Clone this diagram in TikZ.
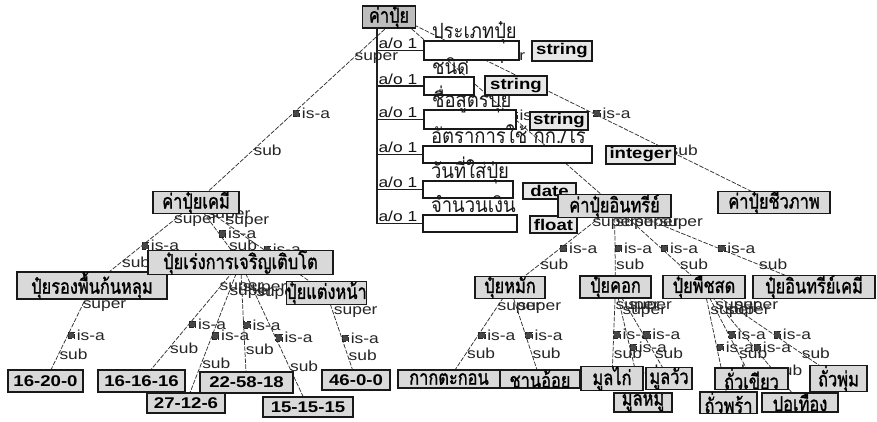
\documentclass[tikz,border=0pt]{standalone}
\usepackage{fontspec}
\setmainfont{Liberation Sans}[FakeStretch=1.2]
\newfontfamily\thaifont[Script=Thai,FakeStretch=0.88]{Loma}
\newfontfamily\thaiboxfont[Script=Thai,FakeStretch=0.8,FakeBold=1.2]{Loma}
\usetikzlibrary{calc}
\pgfdeclarelayer{bg}
\pgfdeclarelayer{back}
\pgfsetlayers{bg,back,main}

% box: style, name, centre x, centre y, width, height, text
\newcommand\bx[7]{\node[#1,minimum width=#5pt,minimum height=#6pt] (#2) at (#3,#4) {#7};}
% is-a link from a super class to a sub class
\newcommand\isalink[2]{\draw[edge] (#1) -- node[superlbl]{super} node[isamark]{} node[sublbl]{sub} (#2);}

\begin{document}
\begin{tikzpicture}[x=1pt,y=-1pt,
  every node/.style={inner sep=0pt, outer sep=0pt},
  box/.style={draw=black!90, line width=1.2pt, fill=black!15, text=black},
  topbox/.style={box, fill=black!26},
  slotbox/.style={draw=black!90, line width=1.2pt, fill=white},
  typebox/.style={box, fill=black!9},
  thaitxt/.style={font=\thaiboxfont\fontsize{20.5}{22}\selectfont},
  numtxt/.style={font=\bfseries\fontsize{15.5}{18}\selectfont},
  lbl/.style={font=\fontsize{14.5}{16}\selectfont, text=black!85, inner sep=1pt},
  slotlbl/.style={font=\thaifont\fontsize{21}{22}\selectfont, text=black!90, anchor=base west},
  edge/.style={draw=black!80, line width=0.75pt, dash pattern=on 4.5pt off 1.5pt},
  aoline/.style={draw=black!88, line width=1.1pt},
  superlbl/.style={lbl, pos=.22, anchor=west},
  sublbl/.style={lbl, pos=.72, anchor=west},
  aolbl/.style={lbl, pos=0, anchor=south west, inner sep=1.5pt, text=black!92},
  isamark/.style={pos=.52, anchor=west, fill=black!72, draw=black!85, line width=.5pt,
    minimum size=6.5pt, label={[lbl, label distance=1.5pt]east:is-a}},
]
\useasboundingbox (0,0) rectangle (877,421);
\begin{pgfonlayer}{bg}
  \fill[white] (0,0) rectangle (877,421);
\end{pgfonlayer}

% root class and its slots
\bx{topbox,thaitxt}{kp}{389}{17}{53}{20}{ค่าปุ๋ย}
\coordinate (kphub) at (398,17);
\coordinate (spine) at (377,27);

\bx{slotbox}{b1}{471.5}{50.5}{95}{19}{}
\bx{slotbox}{b2}{449}{86}{50}{18}{}
\bx{slotbox}{b3}{470}{119.5}{92}{19}{}
\bx{slotbox}{b4}{507.5}{154.5}{169}{17}{}
\bx{slotbox}{b5}{468}{189.5}{90}{17}{}
\bx{slotbox}{b6}{470}{223.5}{94}{17}{}

\node[slotlbl] at ($(b1.north west)+(8,-3)$) {ประเภทปุ๋ย};
\node[slotlbl] at ($(b2.north west)+(8,-3)$) {ชนิด};
\node[slotlbl] at ($(b3.north west)+(8,-3)$) {ชื่อสูตรปุ๋ย};
\node[slotlbl] at ($(b4.north west)+(8,-3)$) {อัตราการใช้ กก./ไร่};
\node[slotlbl] at ($(b5.north west)+(8,-3)$) {วันที่ใส่ปุ๋ย};
\node[slotlbl] at ($(b6.north west)+(8,-3)$) {จำนวนเงิน};

\bx{typebox,numtxt}{s1}{562}{51}{60}{20}{string}
\bx{typebox,numtxt}{s2}{516}{85.5}{62}{19}{string}
\bx{typebox,numtxt}{s3}{559}{121}{58}{18}{string}
\bx{typebox,numtxt}{int}{640.5}{155}{69}{18}{integer}
\bx{typebox,numtxt}{date}{549.5}{191}{53}{16}{date}
\bx{typebox,numtxt}{float}{553.5}{224.5}{47}{17}{float}

% second level
\bx{box,thaitxt}{chem}{196}{202.5}{86}{19}{ค่าปุ๋ยเคมี}
\bx{box,thaitxt}{org}{614.5}{206}{113}{18}{ค่าปุ๋ยอินทรีย์}
\bx{box,thaitxt}{bio}{774}{202.5}{112}{19}{ค่าปุ๋ยชีวภาพ}

% third level
\bx{box,thaitxt}{base}{92}{285.5}{150}{19}{ปุ๋ยรองพื้นก้นหลุม}
\bx{box,thaitxt}{grow}{240.5}{262.5}{185}{19}{ปุ๋ยเร่งการเจริญเติบโต}
\bx{box,thaitxt}{dress}{326.5}{293}{75}{18}{ปุ๋ยแต่งหน้า}
\bx{box,thaitxt}{comp}{510}{287.5}{70}{19}{ปุ๋ยหมัก}
\bx{box,thaitxt}{man}{615.5}{287}{71}{18}{ปุ๋ยคอก}
\bx{box,thaitxt}{green}{704}{287}{82}{18}{ปุ๋ยพืชสด}
\bx{box,thaitxt}{ochem}{814}{287}{122}{18}{ปุ๋ยอินทรีย์เคมี}

% leaves
\bx{box,numtxt}{fa}{45.5}{381}{75}{22}{16-20-0}
\bx{box,numtxt}{fb}{141.5}{381}{87}{22}{16-16-16}
\bx{box,numtxt}{fc}{186}{403}{78}{20}{27-12-6}
\bx{box,numtxt}{fd}{246.5}{382.5}{93}{21}{22-58-18}
\bx{box,numtxt}{fe}{308}{407}{90}{20}{15-15-15}
\bx{box,numtxt}{ff}{356}{380}{68}{20}{46-0-0}
\bx{box,thaitxt}{kak}{449}{379}{102}{18}{กากตะกอน}
\bx{box,thaitxt}{chan}{540}{379}{80}{18}{ชานอ้อย}
\bx{box,thaitxt}{kai}{612}{378.5}{62}{19}{มูลไก่}
\bx{box,thaitxt}{wua}{669}{378.5}{46}{19}{มูลวัว}
\bx{box,thaitxt}{mu}{643}{402.5}{58}{19}{มูลหมู}
\bx{box,thaitxt}{khiao}{751.5}{378.5}{73}{19}{ถั่วเขียว}
\bx{box,thaitxt}{pum}{838.5}{378.5}{57}{19}{ถั่วพุ่ม}
\bx{box,thaitxt}{pra}{728.5}{402.5}{57}{19}{ถั่วพร้า}
\bx{box,thaitxt}{pot}{800}{402.5}{76}{19}{ปอเทือง}

\begin{pgfonlayer}{back}
  % slot spine
  \draw[aoline] (spine) -- (spine |- b6.west);
  \foreach \b in {b1,b2,b3,b4,b5,b6}
    \draw[aoline] (spine |- \b.west) -- node[aolbl]{a/o 1} (\b.west);

  % class hierarchy
  \isalink{kphub}{chem.center}
  \isalink{kphub}{org.center}
  \isalink{kphub}{bio.center}
  \isalink{chem.center}{base.center}
  \isalink{chem.center}{grow.center}
  \isalink{chem.center}{dress.center}
  \isalink{base.center}{fa.center}
  \isalink{grow.center}{fb.center}
  \isalink{grow.center}{fc.center}
  \isalink{grow.center}{fd.center}
  \isalink{grow.center}{fe.center}
  \isalink{dress.center}{ff.center}
  \isalink{org.center}{comp.center}
  \isalink{org.center}{man.center}
  \isalink{org.center}{green.center}
  \isalink{org.center}{ochem.center}
  \isalink{comp.center}{kak.center}
  \isalink{comp.center}{chan.center}
  \isalink{man.center}{kai.center}
  \isalink{man.center}{wua.center}
  \isalink{man.center}{mu.center}
  \isalink{green.center}{khiao.center}
  \isalink{green.center}{pra.center}
  \isalink{green.center}{pot.center}
  \isalink{green.center}{pum.center}
\end{pgfonlayer}
\end{tikzpicture}
\end{document}
